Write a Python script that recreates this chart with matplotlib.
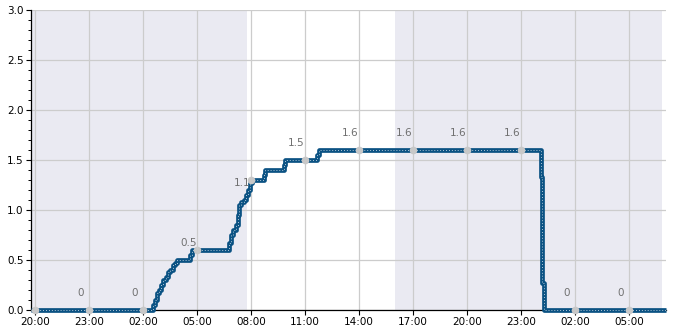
import matplotlib
matplotlib.use("Agg")
import matplotlib.pyplot as plt
import matplotlib.dates as mdates
import pandas as pd

# Step series (time, value)
step_times = ["2024-05-01 19:46", "2024-05-02 02:35", "2024-05-02 02:40", "2024-05-02 02:47",
              "2024-05-02 02:55", "2024-05-02 03:02", "2024-05-02 03:08", "2024-05-02 03:17",
              "2024-05-02 03:23", "2024-05-02 03:30", "2024-05-02 03:40", "2024-05-02 03:48",
              "2024-05-02 03:55", "2024-05-02 04:38", "2024-05-02 04:45", "2024-05-02 06:48",
              "2024-05-02 06:53", "2024-05-02 07:02", "2024-05-02 07:12", "2024-05-02 07:17",
              "2024-05-02 07:22", "2024-05-02 07:28", "2024-05-02 07:37", "2024-05-02 07:43",
              "2024-05-02 07:50", "2024-05-02 07:57", "2024-05-02 08:03", "2024-05-02 08:43",
              "2024-05-02 08:47", "2024-05-02 09:52", "2024-05-02 09:55", "2024-05-02 11:42",
              "2024-05-02 11:47", "2024-05-03 00:06", "2024-05-03 00:09", "2024-05-03 00:12",
              "2024-05-03 00:16", "2024-05-03 07:04"]
step_values = [0, 0.05, 0.1, 0.17,
               0.2, 0.25, 0.3, 0.33,
               0.38, 0.4, 0.45, 0.47,
               0.5, 0.55, 0.6, 0.67,
               0.75, 0.8, 0.85, 0.95,
               1.05, 1.08, 1.1, 1.15,
               1.2, 1.27, 1.3, 1.35,
               1.4, 1.45, 1.5, 1.55,
               1.6, 1.33, 0.8, 0.27,
               0, 0]

# 3-hourly point markers and labels
mark_times = ["2024-05-01 20:00", "2024-05-01 23:00", "2024-05-02 02:00", "2024-05-02 05:00",
              "2024-05-02 08:00", "2024-05-02 11:00", "2024-05-02 14:00", "2024-05-02 17:00",
              "2024-05-02 20:00", "2024-05-02 23:00", "2024-05-03 02:00", "2024-05-03 05:00"]
mark_values = [0, 0, 0, 0.6, 1.3, 1.5, 1.6, 1.6, 1.6, 1.6, 0, 0]
label_values = [None, 0, 0, 0.5, 1.1, 1.5, 1.6, 1.6, 1.6, 1.6, 0, 0]
label_texts = ["", "0", "0", "0.5", "1.1", "1.5", "1.6", "1.6", "1.6", "1.6", "0", "0"]

# Night shading
night_starts = ["2024-05-01 19:00", "2024-05-02 16:00"]
night_ends = ["2024-05-02 07:47", "2024-05-03 06:52"]

x_start, x_end = "2024-05-01 19:46", "2024-05-03 07:04"

st = pd.to_datetime(step_times)
mt = pd.to_datetime(mark_times)

fig = plt.figure(figsize=(6.85, 3.3), dpi=100)
ax = fig.add_axes([0.0448, 0.0606, 0.9275, 0.9091])

for s, e in zip(night_starts, night_ends):
    ax.axvspan(pd.Timestamp(s), pd.Timestamp(e), color="#eaeaf2", zorder=0, lw=0)

ax.step(st, step_values, where="post", color="#0b5283", lw=3.4, zorder=3,
        solid_capstyle="butt", clip_on=False)
ax.step(st, step_values, where="post", color="white", lw=0.6, ls=(0, (1, 2.5)),
        alpha=0.9, zorder=3.5, clip_on=False)

ax.plot(mt, mark_values, "o", color="#c8c8c8", ms=4.5, zorder=4, clip_on=False)
for t, lv, txt in zip(mt, label_values, label_texts):
    if txt:
        ax.annotate(txt, (t, lv), xytext=(-6, 12), textcoords="offset points",
                    ha="center", va="center", fontsize=7.5, color="#707070", zorder=5)

ax.set_xlim(pd.Timestamp(x_start), pd.Timestamp(x_end))
ax.set_ylim(0, 3.0)
ax.set_yticks([0, 0.5, 1.0, 1.5, 2.0, 2.5, 3.0])
ax.yaxis.set_minor_locator(matplotlib.ticker.MultipleLocator(0.1))
ax.xaxis.set_major_locator(mdates.HourLocator(byhour=[2, 5, 8, 11, 14, 17, 20, 23]))
ax.xaxis.set_major_formatter(mdates.DateFormatter("%H:%M"))

ax.grid(True, which="major", color="#cccccc", lw=0.9, zorder=1)
ax.set_axisbelow(True)
for s in ["top", "right"]:
    ax.spines[s].set_visible(False)
ax.spines["left"].set_linewidth(0.9)
ax.spines["bottom"].set_linewidth(0.9)
ax.tick_params(axis="both", labelsize=7.5, length=3.5, width=0.8, pad=1.5)
ax.tick_params(axis="y", which="minor", length=2.5, width=0.7)

fig.savefig("out.png", dpi=100)
